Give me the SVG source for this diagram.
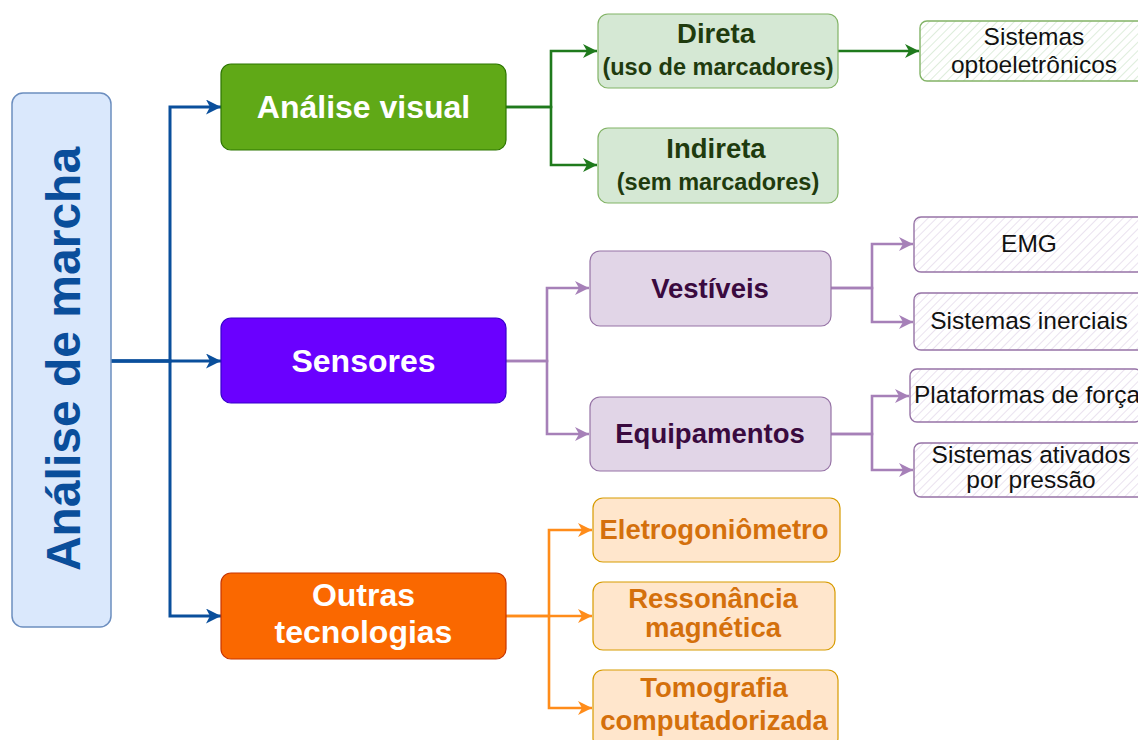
<svg xmlns="http://www.w3.org/2000/svg" width="1138" height="740" viewBox="0 0 1138 740">
  <style>
    text { font-family: "Liberation Sans", Arial, Helvetica, sans-serif; text-anchor: middle; }
    .b { font-weight: bold; }
    .edge { fill: none; stroke-linejoin: miter; }
    .blue { stroke: #0a4f9c; stroke-width: 3; }
    .green { stroke: #1f7a1c; stroke-width: 2.6; }
    .purple { stroke: #a680b8; stroke-width: 2.6; }
    .orange { stroke: #ff8c1a; stroke-width: 2.6; }
    .leafG { fill: url(#hatchG); stroke: #82b366; stroke-width: 1.4; }
    .leafP { fill: url(#hatchP); stroke: #9673a6; stroke-width: 1.4; }
    .subG { fill: #d5e8d4; stroke: #82b366; stroke-width: 1.2; }
    .subP { fill: #e1d5e7; stroke: #9673a6; stroke-width: 1.2; }
    .subO { fill: #ffe6cc; stroke: #d79b00; stroke-width: 1.2; }
    .tG { fill: #1f3b0e; }
    .tP { fill: #3a0a3f; }
    .tO { fill: #d4700c; }
    .top { font-size: 32px; fill: #ffffff; font-weight: bold; }
    .leaf { fill: #111; font-size: 24.5px; }
  </style>
  <defs>
    <pattern id="hatchG" patternUnits="userSpaceOnUse" width="6" height="6" patternTransform="rotate(45)">
      <rect width="6" height="6" fill="#ffffff"/>
      <line x1="0" y1="0" x2="0" y2="6" stroke="#d3e7d1" stroke-width="1.5"/>
    </pattern>
    <pattern id="hatchP" patternUnits="userSpaceOnUse" width="6" height="6" patternTransform="rotate(45)">
      <rect width="6" height="6" fill="#ffffff"/>
      <line x1="0" y1="0" x2="0" y2="6" stroke="#e3d9ea" stroke-width="1.5"/>
    </pattern>
    <marker id="arBlue" markerUnits="userSpaceOnUse" markerWidth="16" markerHeight="15" refX="15" refY="7.5" orient="auto">
      <path d="M0,0 L15,7.5 L0,15 L4,7.5 Z" fill="#0a4f9c"/>
    </marker>
    <marker id="arGreen" markerUnits="userSpaceOnUse" markerWidth="15" markerHeight="14" refX="14" refY="7" orient="auto">
      <path d="M0,0 L14,7 L0,14 L4,7 Z" fill="#1f7a1c"/>
    </marker>
    <marker id="arPurple" markerUnits="userSpaceOnUse" markerWidth="15" markerHeight="14" refX="14" refY="7" orient="auto">
      <path d="M0,0 L14,7 L0,14 L4,7 Z" fill="#a680b8"/>
    </marker>
    <marker id="arOrange" markerUnits="userSpaceOnUse" markerWidth="15" markerHeight="14" refX="14" refY="7" orient="auto">
      <path d="M0,0 L14,7 L0,14 L4,7 Z" fill="#ff8c1a"/>
    </marker>
  </defs>

  <!-- connectors -->
  <g id="connectors">
    <path class="edge blue" d="M111,361 H221" marker-end="url(#arBlue)"/>
    <path class="edge blue" d="M111,361 H170 V107 H221" marker-end="url(#arBlue)"/>
    <path class="edge blue" d="M111,361 H170 V616 H221" marker-end="url(#arBlue)"/>

    <path class="edge green" d="M506,107 H551 V51 H597" marker-end="url(#arGreen)"/>
    <path class="edge green" d="M506,107 H551 V165 H597" marker-end="url(#arGreen)"/>
    <path class="edge green" d="M838,51 H919" marker-end="url(#arGreen)"/>

    <path class="edge purple" d="M506,361 H547 V288 H589" marker-end="url(#arPurple)"/>
    <path class="edge purple" d="M506,361 H547 V434 H589" marker-end="url(#arPurple)"/>
    <path class="edge purple" d="M831,288 H872 V244 H913" marker-end="url(#arPurple)"/>
    <path class="edge purple" d="M831,288 H872 V322 H913" marker-end="url(#arPurple)"/>
    <path class="edge purple" d="M831,434 H872 V396 H909" marker-end="url(#arPurple)"/>
    <path class="edge purple" d="M831,434 H872 V470 H913" marker-end="url(#arPurple)"/>

    <path class="edge orange" d="M506,616 H549 V530 H592" marker-end="url(#arOrange)"/>
    <path class="edge orange" d="M506,616 H592" marker-end="url(#arOrange)"/>
    <path class="edge orange" d="M549,616 V708 H592" marker-end="url(#arOrange)"/>
  </g>

  <!-- root -->
  <g id="analise-marcha">
    <rect x="12" y="93" width="99" height="534" rx="11" fill="#dae8fc" stroke="#6c8ebf" stroke-width="1.5"/>
    <text class="b" transform="translate(80,359) rotate(-90)" font-size="48" fill="#0a4e9b">Análise de marcha</text>
  </g>

  <!-- level 1 -->
  <g id="analise-visual">
    <rect x="221" y="64" width="285" height="86" rx="10" fill="#60a917" stroke="#2d7600" stroke-width="1.2"/>
    <text class="top" x="363.5" y="118">Análise visual</text>
  </g>
  <g id="sensores">
    <rect x="221" y="318" width="285" height="85" rx="10" fill="#6a00ff" stroke="#3700cc" stroke-width="1.2"/>
    <text class="top" x="363.5" y="372">Sensores</text>
  </g>
  <g id="outras-tecnologias">
    <rect x="221" y="573" width="285" height="86" rx="10" fill="#fa6800" stroke="#c73500" stroke-width="1.2"/>
    <text class="top" x="363.5" y="606">Outras</text>
    <text class="top" x="363.5" y="643">tecnologias</text>
  </g>

  <!-- visual analysis branch -->
  <g id="direta">
    <rect class="subG" x="598" y="14" width="240" height="74" rx="10"/>
    <text class="b tG" x="716" y="43" font-size="27.5">Direta</text>
    <text class="b tG" x="718" y="75" font-size="23.5">(uso de marcadores)</text>
  </g>
  <g id="indireta">
    <rect class="subG" x="598" y="128" width="240" height="75" rx="10"/>
    <text class="b tG" x="716" y="158" font-size="27.5">Indireta</text>
    <text class="b tG" x="718" y="190" font-size="23.5">(sem marcadores)</text>
  </g>
  <g id="sistemas-optoeletronicos">
    <rect class="leafG" x="920" y="21" width="228" height="60" rx="7"/>
    <text class="leaf" x="1034" y="45">Sistemas</text>
    <text class="leaf" x="1034" y="73">optoeletrônicos</text>
  </g>

  <!-- sensor branch -->
  <g id="vestiveis">
    <rect class="subP" x="590" y="251" width="241" height="75" rx="10"/>
    <text class="b tP" x="710" y="298" font-size="27.5">Vestíveis</text>
  </g>
  <g id="equipamentos">
    <rect class="subP" x="590" y="397" width="241" height="74" rx="10"/>
    <text class="b tP" x="710" y="443" font-size="27.5">Equipamentos</text>
  </g>
  <g id="emg">
    <rect class="leafP" x="914" y="217" width="230" height="55" rx="7"/>
    <text class="leaf" x="1029" y="252">EMG</text>
  </g>
  <g id="sistemas-inerciais">
    <rect class="leafP" x="914" y="293" width="230" height="57" rx="7"/>
    <text class="leaf" x="1029" y="329">Sistemas inerciais</text>
  </g>
  <g id="plataformas-de-forca">
    <rect class="leafP" x="910" y="369" width="232" height="53" rx="7"/>
    <text class="leaf" x="1027" y="403">Plataformas de força</text>
  </g>
  <g id="sistemas-ativados">
    <rect class="leafP" x="914" y="443" width="230" height="54" rx="7"/>
    <text class="leaf" x="1031" y="463">Sistemas ativados</text>
    <text class="leaf" x="1031" y="488">por pressão</text>
  </g>

  <!-- other technologies branch -->
  <g id="eletrogoniometro">
    <rect class="subO" x="593" y="498" width="247" height="64" rx="10"/>
    <text class="b tO" x="714" y="539" font-size="27.5">Eletrogoniômetro</text>
  </g>
  <g id="ressonancia-magnetica">
    <rect class="subO" x="593" y="582" width="242" height="68" rx="10"/>
    <text class="b tO" x="713" y="608" font-size="27.5">Ressonância</text>
    <text class="b tO" x="713" y="637" font-size="27.5">magnética</text>
  </g>
  <g id="tomografia-computadorizada">
    <rect class="subO" x="593" y="670" width="245" height="78" rx="10"/>
    <text class="b tO" x="714" y="697" font-size="27.5">Tomografia</text>
    <text class="b tO" x="714" y="730" font-size="27.5">computadorizada</text>
  </g>
</svg>
